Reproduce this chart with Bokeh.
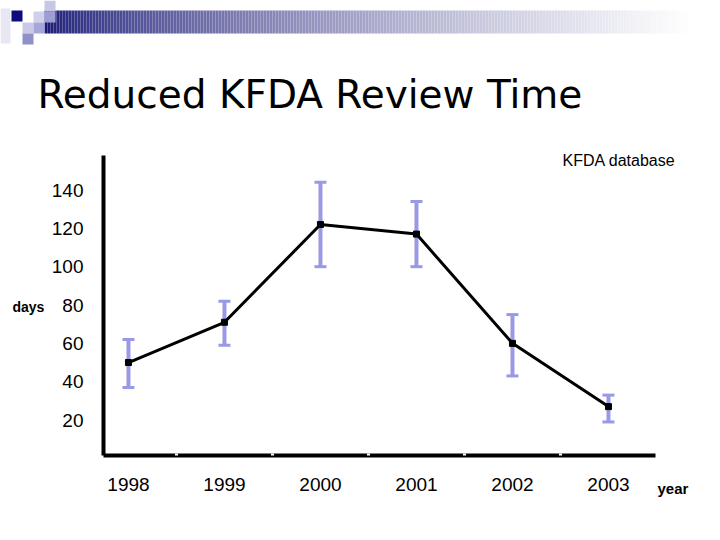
import numpy as np
from bokeh.plotting import figure
from bokeh.models import (Range1d, FixedTicker, ColumnDataSource, Whisker, TeeHead, LinearAxis)
from bokeh.core.properties import value
from bokeh.embed import file_html
from bokeh.resources import INLINE

# ---------------- data ----------------
years = [1998, 1999, 2000, 2001, 2002, 2003]
days = [50, 71, 122, 117, 60, 27]
upper = [62, 82, 144, 134, 75, 33]
lower = [37, 59, 100, 100, 43, 19]
y_ticks = [20, 40, 60, 80, 100, 120, 140]
year_bounds = [1998.5, 1999.5, 2000.5, 2001.5, 2002.5]

title_text = "Reduced KFDA Review Time"
source_text = "KFDA database"
y_name = "days"
x_name = "year"

# ---------------- geometry (page pixels) ----------------
OFF = 0                 # measured offset of the canvas on the page
W, H = 704, 524
X_LO, X_HI = 1997.74, 2003.49   # axis extent (data)
Y_LO, Y_HI = 1.5, 158.0
AX_L, AX_R = 103, 655           # page px of x extent
AX_B, AX_T = 455, 155           # page px of y extent
xs = (AX_R - AX_L) / (X_HI - X_LO)
ys = (AX_B - AX_T) / (Y_HI - Y_LO)
x_start = X_LO - (AX_L - OFF) / xs
x_end = X_LO + (OFF + W - AX_L) / xs
y_start = Y_LO - (OFF + H - AX_B) / ys
y_end = Y_LO + (AX_B - OFF) / ys

p = figure(width=W, height=H, x_range=Range1d(x_start, x_end), y_range=Range1d(y_start, y_end),
           output_backend="svg", toolbar_location=None,
           x_axis_location=None, y_axis_location=None, min_border=0)
p.grid.visible = False
p.outline_line_color = None
p.background_fill_color = "white"
p.extra_x_ranges = {"px": Range1d(OFF, OFF + W)}
p.extra_y_ranges = {"px": Range1d(OFF + H, OFF)}

# ---------------- header decoration ----------------
lefts = np.arange(44, 720, 3)
t = (lefts - 44) / (720 - 44)
tt = np.clip(t * 1.05, 0, 1) ** 0.7
c0 = np.array([26, 26, 118])
cols = ["#%02x%02x%02x" % tuple((c0 + (255 - c0) * k).astype(int)) for k in tt]
p.quad(left=lefts, right=lefts + 3, top=10, bottom=33, fill_color=cols, line_color=None,
       x_range_name="px", y_range_name="px")

sq_l = [0, 11, 44, 33, 44, 22, 33, 22]
sq_t = [8, 10, 0, 11, 11, 22, 22, 33]
sq_c = ["#e8e8f4", "#0c0c7c", "#c6c6e6", "#d0d0ec", "#9e9ed2", "#cacae8", "#a6a6d8", "#9090c8"]
sq_w = [10, 11, 11, 11, 11, 11, 11, 11]
sq_h = [35, 11, 11, 11, 11, 11, 11, 11]
p.quad(left=sq_l, right=[a + b for a, b in zip(sq_l, sq_w)],
       top=sq_t, bottom=[a + b for a, b in zip(sq_t, sq_h)],
       fill_color=sq_c, line_color=None, x_range_name="px", y_range_name="px")

p.text(x=[37], y=[93.5], text=[title_text], text_font=value("DejaVu Sans"),
       text_font_size="39px", text_color="black", text_baseline="alphabetic",
       text_align="left", x_range_name="px", y_range_name="px")

# ---------------- axes ----------------
yax = LinearAxis(fixed_location=X_LO, bounds=(Y_LO, Y_HI))
yax.ticker = FixedTicker(ticks=y_ticks)
yax.axis_line_width = 4
yax.axis_line_color = "black"
yax.major_tick_line_color = None
yax.minor_tick_line_color = None
yax.major_label_standoff = 14
yax.major_label_text_font = "Liberation Sans"
yax.major_label_text_font_size = "19px"
yax.major_label_text_color = "black"
p.add_layout(yax, "left")

xax = LinearAxis(fixed_location=Y_LO, bounds=(X_LO, X_HI))
xax.ticker = FixedTicker(ticks=years, minor_ticks=year_bounds)
xax.axis_line_width = 4
xax.axis_line_color = "black"
xax.major_tick_line_color = None
xax.minor_tick_line_color = "white"
xax.minor_tick_line_width = 3
xax.minor_tick_in = 2
xax.minor_tick_out = 0
xax.major_label_standoff = 16
xax.major_label_text_font = "Liberation Sans"
xax.major_label_text_font_size = "19px"
xax.major_label_text_color = "black"
p.add_layout(xax, "below")

# ---------------- data marks ----------------
src = ColumnDataSource(dict(x=years, y=days, upper=upper, lower=lower))
err_col = "#9999e6"
wh = Whisker(base="x", upper="upper", lower="lower", source=src,
             line_color=err_col, line_width=4,
             upper_head=TeeHead(size=12, line_color=err_col, line_width=3),
             lower_head=TeeHead(size=12, line_color=err_col, line_width=3))
p.add_layout(wh)

p.line("x", "y", source=src, line_color="black", line_width=3)
p.scatter("x", "y", source=src, marker="square", size=6, fill_color="black", line_color="black")

# ---------------- texts ----------------
p.text(x=[562], y=[160], text=[source_text], text_font=value("Liberation Sans"),
       text_font_size="16px", text_color="black", text_baseline="middle", text_align="left",
       x_range_name="px", y_range_name="px")
p.text(x=[12], y=[306], text=[y_name], text_font=value("Liberation Sans"),
       text_font_size="14px", text_font_style="bold", text_color="black",
       text_baseline="middle", text_align="left", x_range_name="px", y_range_name="px")
p.text(x=[657], y=[488], text=[x_name], text_font=value("Liberation Sans"),
       text_font_size="15px", text_font_style="bold", text_color="black",
       text_baseline="middle", text_align="left", x_range_name="px", y_range_name="px")

open("out.html", "w").write(file_html(p, INLINE))
